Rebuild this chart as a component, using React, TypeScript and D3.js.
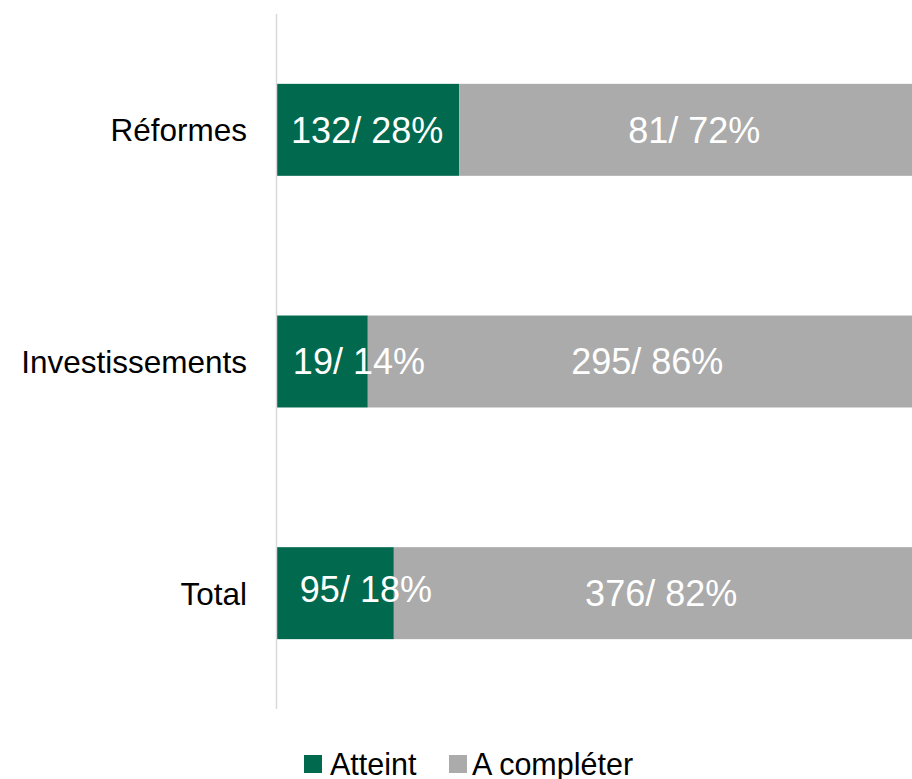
import React from "react";
import * as d3 from "d3";

const categories = ["Réformes", "Investissements", "Total"];
const atteintPct = [28.7, 14.3, 18.4];
const aCompleterPct = [71.3, 85.7, 81.6];
const atteintLabels = ["132/ 28%", "19/ 14%", "95/ 18%"];
const aCompleterLabels = ["81/ 72%", "295/ 86%", "376/ 82%"];
// label anchor positions (in % units along the bar)
const atteintLabelAt = [14.2, 12.9, 14.0];
const aCompleterLabelAt = [65.7, 58.3, 60.5];
const seriesNames = ["Atteint", "A compléter"];
const colors = ["#00694E", "#ABABAB"];

const W = 912;
const H = 779;
const FONT = "Arial, 'Liberation Sans', sans-serif";

export default function App() {
  const x = d3.scaleLinear().domain([0, 100]).range([277, 912]);
  const y = d3.scaleBand<string>().domain(categories).range([14, 709]).paddingInner(0.603).paddingOuter(0.3015);
  const bh = y.bandwidth();

  return (
    <svg width={W} height={H} style={{ position: "absolute", left: 0, top: 0, background: "#fff" }}>
      {categories.map((c, i) => {
        const y0 = y(c)!;
        const cy = y0 + bh / 2;
        return (
          <g key={c}>
            <rect x={x(0)} y={y0} width={x(atteintPct[i]) - x(0)} height={bh} fill={colors[0]} />
            <rect x={x(atteintPct[i])} y={y0} width={x(atteintPct[i] + aCompleterPct[i]) - x(atteintPct[i])} height={bh} fill={colors[1]} />
            <text x={x(atteintLabelAt[i])} y={cy + (i === 2 ? -4 : 0)} dy="0.36em" textAnchor="middle" fill="#fff" fontSize={36} fontFamily={FONT}>
              {atteintLabels[i]}
            </text>
            <text x={x(aCompleterLabelAt[i])} y={cy} dy="0.36em" textAnchor="middle" fill="#fff" fontSize={36} fontFamily={FONT}>
              {aCompleterLabels[i]}
            </text>
            <text x={247} y={cy} dy="0.36em" textAnchor="end" fill="#000" fontSize={31.5} fontFamily={FONT}>
              {c}
            </text>
          </g>
        );
      })}
      <line x1={276.5} x2={276.5} y1={14} y2={709} stroke="#D9D9D9" strokeWidth={1.5} />
      <g>
        <rect x={304} y={755} width={18} height={18} fill={colors[0]} />
        <text x={330} y={775} fontSize={30.5} fontFamily={FONT} fill="#000">{seriesNames[0]}</text>
        <rect x={449} y={755} width={18} height={18} fill={colors[1]} />
        <text x={472} y={775} fontSize={30.5} fontFamily={FONT} fill="#000">{seriesNames[1]}</text>
      </g>
    </svg>
  );
}
